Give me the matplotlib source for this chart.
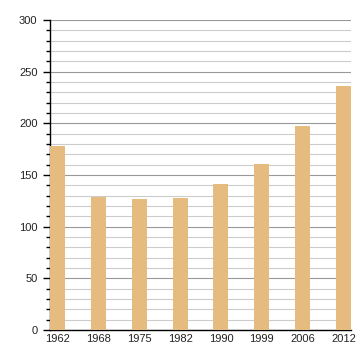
import matplotlib.pyplot as plt
import numpy as np
from matplotlib.ticker import MultipleLocator

plt.rcParams['font.family'] = ['Liberation Sans', 'DejaVu Sans']

# population by census year
years = ['1962', '1968', '1975', '1982', '1990', '1999', '2006', '2012']
values = [178, 129, 127, 128, 141, 161, 197, 236]

fig = plt.figure(figsize=(3.6, 3.6), dpi=100)
ax = fig.add_axes([50 / 360, 30 / 360, 301 / 360, 310 / 360])

x = np.arange(len(years))
width = 0.37
ax.bar(x, values, width=width, align='edge', color='#e6bb80', zorder=3)

ax.set_xlim(0, len(years) - 1 + width)
ax.set_ylim(0, 300)
ax.set_xticks(x + width / 2)
ax.set_xticklabels(years)
ax.tick_params(axis='x', length=0, pad=3, labelsize=8, labelcolor='#222222')

ax.yaxis.set_major_locator(MultipleLocator(50))
ax.yaxis.set_minor_locator(MultipleLocator(10))
ax.tick_params(axis='y', which='major', length=5, width=1, labelsize=8, pad=4,
               labelcolor='#222222')
ax.tick_params(axis='y', which='minor', length=3, width=1)

ax.grid(axis='y', which='minor', color='#cccccc', linewidth=0.8, zorder=0)
ax.grid(axis='y', which='major', color='#999999', linewidth=0.8, zorder=0)

for s in ['top', 'right']:
    ax.spines[s].set_visible(False)
ax.spines['left'].set_linewidth(1)
ax.spines['bottom'].set_linewidth(1)

plt.savefig('out.png')
